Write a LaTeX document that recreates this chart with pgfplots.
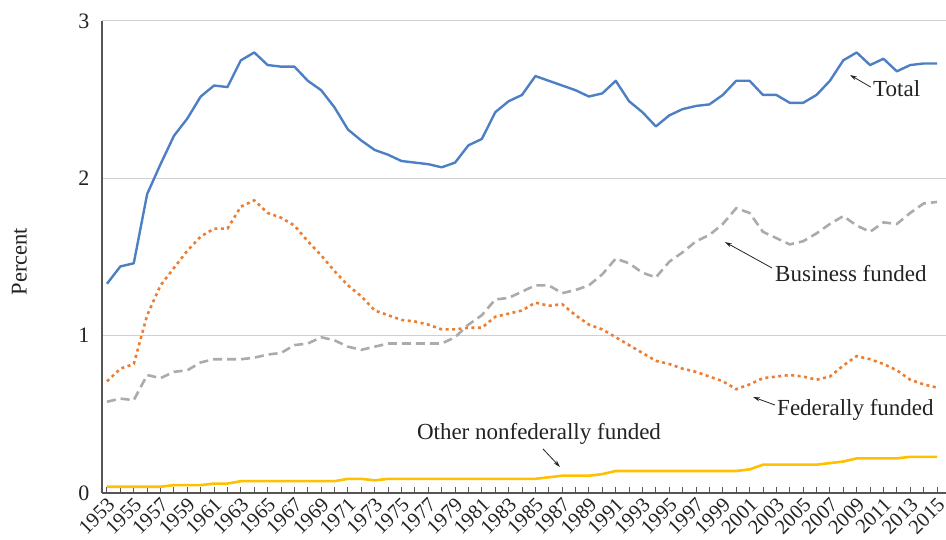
\documentclass[border=0pt]{standalone}
\usepackage{pgfplots}
\pgfplotsset{compat=1.18}
\usepackage{pgfplotstable}
\usepackage{fontspec}
\setmainfont{Liberation Serif}
\usetikzlibrary{arrows.meta}
\definecolor{cTotal}{HTML}{4C7FC4}
\definecolor{cFed}{HTML}{ED7D31}
\definecolor{cBus}{HTML}{ABABAB}
\definecolor{cOth}{HTML}{FFC000}
\definecolor{cAxis}{HTML}{555555}
\definecolor{cGrid}{HTML}{D0D0D0}
\definecolor{cTxt}{HTML}{222222}

\pgfplotstableread{
year total fed bus oth
1953 1.33 0.71 0.58 0.04
1954 1.44 0.79 0.60 0.04
1955 1.46 0.82 0.59 0.04
1956 1.90 1.13 0.75 0.04
1957 2.09 1.32 0.73 0.04
1958 2.27 1.43 0.77 0.05
1959 2.38 1.54 0.78 0.05
1960 2.52 1.63 0.83 0.05
1961 2.59 1.68 0.85 0.06
1962 2.58 1.68 0.85 0.06
1963 2.75 1.82 0.85 0.075
1964 2.80 1.86 0.86 0.075
1965 2.72 1.78 0.88 0.075
1966 2.71 1.75 0.89 0.075
1967 2.71 1.70 0.94 0.075
1968 2.62 1.60 0.95 0.075
1969 2.56 1.51 0.99 0.075
1970 2.45 1.41 0.97 0.075
1971 2.31 1.32 0.93 0.09
1972 2.24 1.25 0.91 0.09
1973 2.18 1.16 0.93 0.08
1974 2.15 1.13 0.95 0.09
1975 2.11 1.10 0.95 0.09
1976 2.10 1.09 0.95 0.09
1977 2.09 1.07 0.95 0.09
1978 2.07 1.04 0.95 0.09
1979 2.10 1.04 0.99 0.09
1980 2.21 1.05 1.07 0.09
1981 2.25 1.05 1.13 0.09
1982 2.42 1.12 1.23 0.09
1983 2.49 1.14 1.24 0.09
1984 2.53 1.16 1.28 0.09
1985 2.65 1.21 1.32 0.09
1986 2.62 1.19 1.32 0.10
1987 2.59 1.20 1.27 0.11
1988 2.56 1.13 1.29 0.11
1989 2.52 1.07 1.32 0.11
1990 2.54 1.04 1.39 0.12
1991 2.62 0.99 1.49 0.14
1992 2.49 0.94 1.46 0.14
1993 2.42 0.89 1.40 0.14
1994 2.33 0.84 1.37 0.14
1995 2.40 0.82 1.47 0.14
1996 2.44 0.79 1.53 0.14
1997 2.46 0.77 1.60 0.14
1998 2.47 0.74 1.64 0.14
1999 2.53 0.71 1.71 0.14
2000 2.62 0.66 1.81 0.14
2001 2.62 0.69 1.78 0.15
2002 2.53 0.73 1.66 0.18
2003 2.53 0.74 1.62 0.18
2004 2.48 0.75 1.58 0.18
2005 2.48 0.74 1.60 0.18
2006 2.53 0.72 1.65 0.18
2007 2.62 0.74 1.71 0.19
2008 2.75 0.81 1.76 0.20
2009 2.80 0.87 1.70 0.22
2010 2.72 0.85 1.66 0.22
2011 2.76 0.82 1.72 0.22
2012 2.68 0.78 1.71 0.22
2013 2.72 0.72 1.78 0.23
2014 2.73 0.69 1.84 0.23
2015 2.73 0.67 1.85 0.23
}\datatable

\begin{document}
\begin{tikzpicture}
\begin{axis}[
  at={(0,0)}, anchor=south west,
  scale only axis, width=844pt, height=472pt,
  xmin=1952.627, xmax=2015.672, ymin=0, ymax=3,
  axis x line=bottom, axis y line=left,
  axis line style={draw=cAxis, line width=1.2pt, -},
  xtick={1953,1955,...,2015},
  minor xtick={1954,1956,...,2014},
  xticklabel style={rotate=45, anchor=north east, font=\fontsize{20.5}{20.5}\selectfont, text=cTxt, yshift=-1pt, xshift=-2pt, inner sep=1pt},
  x tick label style={/pgf/number format/1000 sep={}},
  /pgf/number format/assume math mode=true,
  tick align=inside,
  major tick length=6pt, minor tick length=6pt,
  x tick style={draw=cAxis, line width=1pt},
  ytick={0,1,2,3},
  y tick style={draw=none},
  yticklabel style={font=\fontsize{22}{22}\selectfont, text=cTxt, xshift=-9pt},
  ymajorgrids, grid style={draw=cGrid, line width=1pt},
  ylabel={Percent},
  ylabel style={at={(axis description cs:-0.098,0.49)}, anchor=center, font=\fontsize{22.5}{22.5}\selectfont, text=cTxt},
  clip=false,
]
\addplot[cOth, line width=2.6pt, line join=round] table[x=year,y=oth]{\datatable};
\addplot[cBus, line width=2.6pt, dash pattern=on 9pt off 5pt] table[x=year,y=bus]{\datatable};
\addplot[cFed, line width=2.6pt, dash pattern=on 3pt off 3.5pt] table[x=year,y=fed]{\datatable};
\addplot[cTotal, line width=2.4pt, line join=round] table[x=year,y=total]{\datatable};

\node[anchor=west, font=\fontsize{23}{23}\selectfont, text=cTxt, inner sep=0pt] at (axis cs:2010.22,2.568) {Total};
\draw[-{Stealth[length=7pt,width=4pt]}, line width=0.8pt, cTxt] (axis cs:2010.05,2.58) -- (axis cs:2008.5,2.657);
\node[anchor=west, font=\fontsize{23}{23}\selectfont, text=cTxt, inner sep=0pt] at (axis cs:2002.9,1.398) {Business funded};
\draw[-{Stealth[length=7pt,width=4pt]}, line width=0.8pt, cTxt] (axis cs:2002.68,1.43) -- (axis cs:1999.16,1.595);
\node[anchor=west, font=\fontsize{23}{23}\selectfont, text=cTxt, inner sep=0pt] at (axis cs:2003.05,0.528) {Federally funded};
\draw[-{Stealth[length=7pt,width=4pt]}, line width=0.8pt, cTxt] (axis cs:2002.9,0.559) -- (axis cs:2001.26,0.61);
\node[anchor=center, font=\fontsize{23}{23}\selectfont, text=cTxt, inner sep=0pt] at (axis cs:1985.27,0.375) {Other nonfederally funded};
\draw[-{Stealth[length=7pt,width=4pt]}, line width=0.8pt, cTxt] (axis cs:1985.57,0.28) -- (axis cs:1986.84,0.165);
\end{axis}
\pgfresetboundingbox
\path[use as bounding box] (-102pt,-47pt) rectangle (844pt,493pt);
\end{tikzpicture}
\end{document}
